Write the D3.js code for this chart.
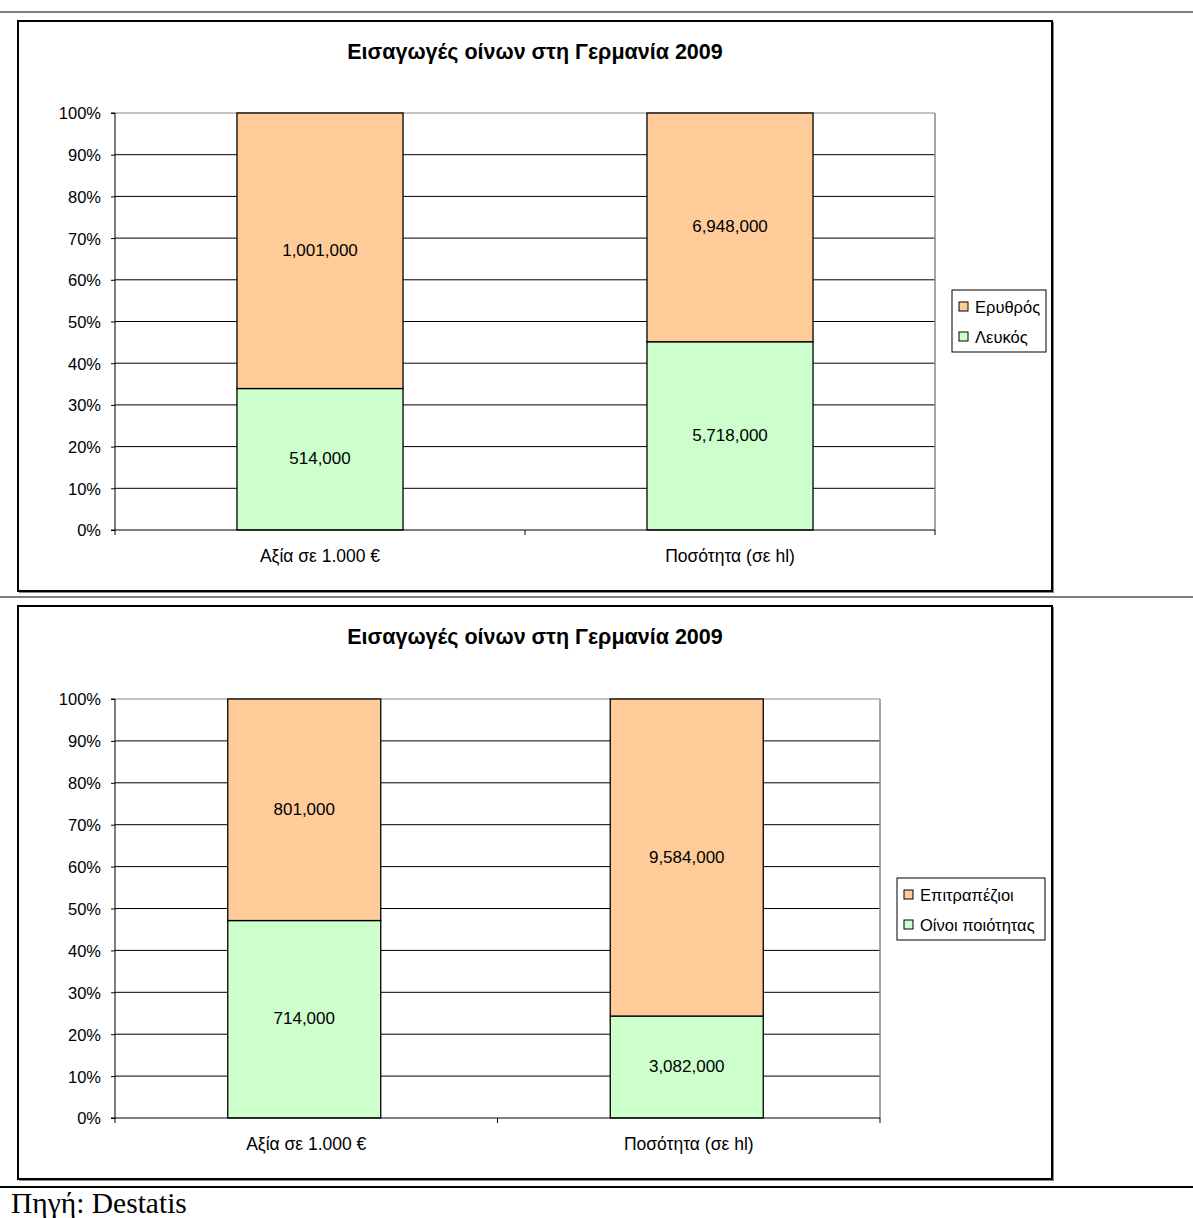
<!DOCTYPE html>
<html><head><meta charset="utf-8">
<script src="https://cdn.jsdelivr.net/npm/d3@7/dist/d3.min.js"></script>
<style>body{margin:0;background:#fff}svg{display:block}</style>
</head><body>
<svg id="c" width="1193" height="1218"></svg>
<script>
const title = "Εισαγωγές οίνων στη Γερμανία 2009";
const categories = ["Αξία σε 1.000 €", "Ποσότητα (σε hl)"];
const yTicks = [0, 0.1, 0.2, 0.3, 0.4, 0.5, 0.6, 0.7, 0.8, 0.9, 1.0];
// chart 1
const series1Names = ["Λευκός", "Ερυθρός"];
const white1 = [514000, 5718000];
const red1 = [1001000, 6948000];
// chart 2
const series2Names = ["Οίνοι ποιότητας", "Επιτραπέζιοι"];
const quality2 = [714000, 3082000];
const table2 = [801000, 9584000];
const source = "Πηγή: Destatis";

const colors = ["#CCFFCC", "#FFCC99"];
const svg = d3.select("#c");
const F = "'Liberation Sans', Arial, sans-serif";

[[12,1],[597,1],[1187,2]].forEach(([y,w]) => {
  svg.append("line").attr("x1",0).attr("x2",1193).attr("y1",y).attr("y2",y)
    .attr("stroke","#000").attr("stroke-width",w);
});

function panel(o){
  const g = svg.append("g");
  g.append("rect").attr("x",o.px+1.5).attr("y",o.py+1.5).attr("width",o.pw).attr("height",o.ph)
    .attr("fill","none").attr("stroke","#888").attr("stroke-width",1);
  g.append("rect").attr("x",o.px).attr("y",o.py).attr("width",o.pw).attr("height",o.ph)
    .attr("fill","#fff").attr("stroke","#000").attr("stroke-width",2);
  g.append("text").attr("x",o.px+o.pw/2).attr("y",o.py+38).attr("text-anchor","middle")
    .attr("font-family",F).attr("font-weight","bold").attr("font-size",21.5).text(title);

  const x = d3.scaleBand().domain(categories).range([o.x0,o.x1]).paddingInner(0).paddingOuter(0);
  const y = d3.scaleLinear().domain([0,1]).range([o.y0,o.y1]);
  const bw = x.bandwidth()*o.barFrac;

  g.selectAll(".grid").data(yTicks.slice(1)).join("line")
    .attr("x1",o.x0).attr("x2",o.x1).attr("y1",d=>y(d)).attr("y2",d=>y(d))
    .attr("stroke", d=> d===1 ? "#888" : "#000").attr("stroke-width",1);
  g.append("line").attr("x1",o.x1).attr("x2",o.x1).attr("y1",o.y1).attr("y2",o.y0)
    .attr("stroke","#888").attr("stroke-width",1.5);

  const rows = categories.map((c,i)=>{
    const tot = o.a[i]+o.b[i];
    return {c, a:o.a[i], b:o.b[i], fa:o.a[i]/tot};
  });
  rows.forEach(r=>{
    const cx = x(r.c)+x.bandwidth()/2 + o.shift;
    const segs = [{v0:0,v1:r.fa,val:r.a,col:colors[0]},{v0:r.fa,v1:1,val:r.b,col:colors[1]}];
    segs.forEach(s=>{
      g.append("rect").attr("x",cx-bw/2).attr("y",y(s.v1)).attr("width",bw).attr("height",y(s.v0)-y(s.v1))
        .attr("fill",s.col).attr("stroke","#000").attr("stroke-width",1.3);
      g.append("text").attr("x",cx).attr("y",(y(s.v0)+y(s.v1))/2+5).attr("text-anchor","middle")
        .attr("font-family",F).attr("font-size",17).text(d3.format(",")(s.val));
    });
  });

  const ya = g.append("g").attr("transform",`translate(${o.x0},0)`)
    .call(d3.axisLeft(y).tickValues(yTicks).tickFormat(d3.format(".0%")).tickSize(4).tickPadding(10));
  ya.select(".domain").attr("stroke","#000").attr("d",`M-4,${o.y1}H0V${o.y0}H-4`);
  ya.selectAll("text").attr("font-family",F).attr("font-size",16.5).attr("fill","#000").attr("dy","0.36em");

  const xa = g.append("g").attr("transform",`translate(0,${o.y0})`);
  xa.append("line").attr("x1",o.x0).attr("x2",o.x1).attr("stroke","#000");
  [o.x0, (o.x0+o.x1)/2, o.x1].forEach(t=>xa.append("line").attr("x1",t).attr("x2",t).attr("y1",0).attr("y2",5).attr("stroke","#000"));
  categories.forEach(c=>{
    xa.append("text").attr("x",x(c)+x.bandwidth()/2).attr("y",32).attr("text-anchor","middle")
      .attr("font-family",F).attr("font-size",17.5).text(c);
  });

  const L = o.leg;
  g.append("rect").attr("x",L.x).attr("y",L.y).attr("width",L.w).attr("height",L.h)
    .attr("fill","#fff").attr("stroke","#000").attr("stroke-width",1);
  const items = [{n:o.names[1],c:colors[1]},{n:o.names[0],c:colors[0]}];
  items.forEach((it,i)=>{
    const yy = L.y + 16.5 + i*30;
    g.append("rect").attr("x",L.x+7).attr("y",yy-4.5).attr("width",9).attr("height",9)
      .attr("fill",it.c).attr("stroke","#000").attr("stroke-width",1);
    g.append("text").attr("x",L.x+23).attr("y",yy+6).attr("font-family",F).attr("font-size",16.5).text(it.n);
  });
}

panel({px:18,py:21,pw:1034,ph:570,x0:115,x1:935,y0:530,y1:113,barFrac:0.405,shift:0,
  a:white1,b:red1,names:series1Names,leg:{x:952,y:290,w:94,h:62}});
panel({px:18,py:606,pw:1034,ph:573,x0:115,x1:880,y0:1118,y1:699,barFrac:0.4,shift:-2,
  a:quality2,b:table2,names:series2Names,leg:{x:897,y:878,w:148,h:62}});

svg.append("text").attr("x",11).attr("y",1213).attr("font-family","'Liberation Serif', 'Times New Roman', serif")
  .attr("font-size",29.5).text(source);
</script>
</body></html>
